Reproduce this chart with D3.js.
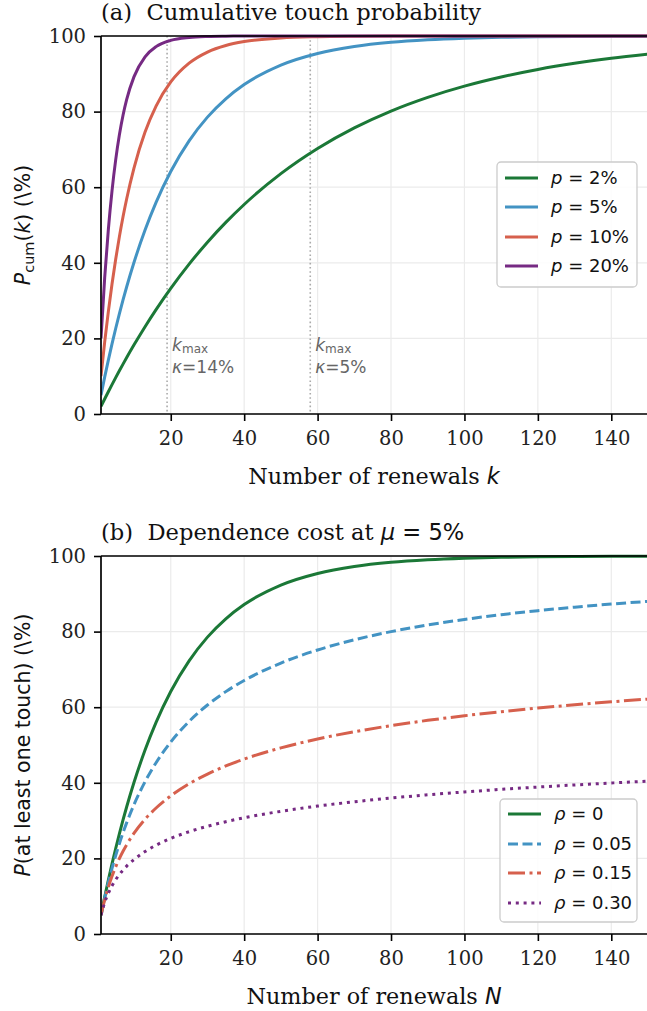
<!DOCTYPE html>
<html><head><meta charset="utf-8">
<script src="https://cdn.jsdelivr.net/npm/d3@7"></script>
<style>body{margin:0;background:#fff}svg{display:block}</style>
</head><body>
<svg id="c" width="647" height="1011"></svg>
<script>
// ---- data ----
const kPoints = [1,2,3,4,5,6,7,8,10,13,16,20,25,30,35,40,50,60,70,80,90,100,110,120,130,140,150];
const pcum2  = [2.0,3.96,5.88,7.76,9.61,11.42,13.19,14.92,18.29,23.10,27.62,33.24,39.65,45.45,50.69,55.43,63.58,70.24,75.69,80.14,83.77,86.74,89.16,91.15,92.77,94.09,95.17];
const pcum5  = [5.0,9.75,14.26,18.55,22.62,26.49,30.17,33.66,40.13,48.67,55.99,64.15,72.26,78.54,83.39,87.15,92.31,95.39,97.24,98.35,99.01,99.41,99.65,99.79,99.87,99.92,99.95];
const pcum10 = [10,19,27.1,34.39,40.95,46.86,52.17,56.95,65.13,74.58,81.47,87.84,92.82,95.76,97.50,98.52,99.48,99.82,99.94,99.98,99.99,100,100,100,100,100,100];
const pcum20 = [20,36,48.8,59.04,67.23,73.79,79.03,83.22,89.26,94.50,97.19,98.85,99.62,99.88,99.96,99.99,100,100,100,100,100,100,100,100,100,100,100];
const pLabels = ["2%","5%","10%","20%"];

const rho0   = pcum5;
const rho005 = [5.0,9.51,13.61,17.34,20.75,23.89,26.78,29.46,34.24,40.30,45.32,50.79,56.24,60.58,64.12,67.06,71.68,75.14,77.83,79.99,81.75,83.22,84.47,85.54,86.47,87.29,88.00];
const rho015 = [5.0,9.04,12.40,15.26,17.75,19.96,21.90,23.65,26.68,30.36,33.34,36.55,39.74,42.31,44.45,46.27,49.24,51.59,53.51,55.13,56.52,57.74,58.81,59.78,60.64,61.43,62.15];
const rho030 = [5.0,8.33,10.79,12.74,14.35,15.74,16.92,17.96,19.72,21.82,23.49,25.28,27.06,28.50,29.71,30.75,32.46,33.84,34.98,35.97,36.82,37.58,38.26,38.87,39.43,39.95,40.42];
const rhoLabels = ["0","0.05","0.15","0.30"];

const xTicks = [20,40,60,80,100,120,140];
const yTicks = [0,20,40,60,80,100];
const kmaxMarks = [{k:19, label:"14%"},{k:58, label:"5%"}];

// ---- style ----
const colors = ["#1b7837","#4393c3","#d6604d","#762a83"];
const SERIF = "DejaVu Serif", SANS = "DejaVu Sans";
const LW = 3;
const svg = d3.select("#c");

const x = d3.scaleLinear().domain([1,150]).range([101,648]);

function panel(top, bottom){
  const y = d3.scaleLinear().domain([0,100]).range([bottom, top]);
  const g = svg.append("g");
  g.append("g").selectAll("line").data(xTicks).join("line")
    .attr("x1",d=>x(d)).attr("x2",d=>x(d)).attr("y1",top).attr("y2",bottom)
    .attr("stroke","#ebebeb").attr("stroke-width",1.2);
  g.append("g").selectAll("line").data(yTicks).join("line")
    .attr("x1",x.range()[0]).attr("x2",x.range()[1]).attr("y1",d=>y(d)).attr("y2",d=>y(d))
    .attr("stroke","#ebebeb").attr("stroke-width",1.2);
  return {g,y};
}

function axes(g, y, top, bottom){
  const ax = g.append("g").attr("transform",`translate(0,${bottom})`)
    .call(d3.axisBottom(x).tickValues(xTicks).tickSize(7).tickPadding(10).tickFormat(d3.format("d")));
  const ay = g.append("g").attr("transform",`translate(${x.range()[0]},0)`)
    .call(d3.axisLeft(y).tickValues(yTicks).tickSize(7).tickPadding(8).tickFormat(d3.format("d")));
  [ax,ay].forEach(a=>{
    a.select(".domain").remove();
    a.selectAll(".tick line").attr("stroke","#000").attr("stroke-width",1.6);
    a.selectAll(".tick text").attr("font-family",SERIF).attr("font-size",19.5).attr("fill","#222");
  });
  g.append("line").attr("x1",x.range()[0]).attr("x2",x.range()[0]).attr("y1",top).attr("y2",bottom).attr("stroke","#000").attr("stroke-width",1.7);
  g.append("line").attr("x1",x.range()[0]).attr("x2",x.range()[1]).attr("y1",bottom).attr("y2",bottom).attr("stroke","#000").attr("stroke-width",1.7);
  g.append("line").attr("x1",x.range()[0]).attr("x2",x.range()[1]).attr("y1",top).attr("y2",top).attr("stroke","#000").attr("stroke-width",1.7);
}

function legend(g, x0, y0, w, h, rows, labelPrefix, labels, dashes){
  g.append("rect").attr("x",x0).attr("y",y0).attr("width",w).attr("height",h).attr("rx",4)
    .attr("fill","rgba(255,255,255,0.85)").attr("stroke","#cccccc").attr("stroke-width",1.3);
  labels.forEach((lb,i)=>{
    const yy = rows[i];
    g.append("line").attr("x1",x0+8).attr("x2",x0+41).attr("y1",yy).attr("y2",yy)
      .attr("stroke",colors[i]).attr("stroke-width",LW).attr("stroke-dasharray",dashes[i]);
    const t = g.append("text").attr("x",x0+54).attr("y",yy).attr("dy","0.36em")
      .attr("font-family",SANS).attr("font-size",18).attr("fill","#111");
    t.append("tspan").attr("font-style","italic").text(labelPrefix);
    t.append("tspan").text(" = "+lb);
  });
}

svg.append("clipPath").attr("id","clipA").append("rect").attr("x",101).attr("y",30).attr("width",547).attr("height",390);
svg.append("clipPath").attr("id","clipB").append("rect").attr("x",101).attr("y",550).attr("width",547).attr("height",390);

// ---- Panel (a) ----
{
  const top=36, bottom=414;
  const {g,y} = panel(top,bottom);
  kmaxMarks.forEach(m=>{
    g.append("line").attr("x1",x(m.k)).attr("x2",x(m.k)).attr("y1",top).attr("y2",bottom)
      .attr("stroke","#aaaaaa").attr("stroke-width",1.6).attr("stroke-dasharray","1.6,2.6");
    const t1 = g.append("text").attr("x",x(m.k)+5).attr("y",351).attr("font-family",SANS).attr("font-size",17).attr("fill","#666");
    t1.append("tspan").attr("font-style","italic").text("k");
    t1.append("tspan").attr("font-size",12).attr("dy",2).text("max");
    const t2 = g.append("text").attr("x",x(m.k)+5).attr("y",373).attr("font-family",SANS).attr("font-size",17).attr("fill","#666");
    t2.append("tspan").attr("font-style","italic").text("κ");
    t2.append("tspan").text("="+m.label);
  });
  const line = d3.line().x((d,i)=>x(kPoints[i])).y(d=>y(d)).curve(d3.curveMonotoneX);
  const lg = g.append("g").attr("clip-path","url(#clipA)");
  [pcum2,pcum5,pcum10,pcum20].forEach((s,i)=>{
    lg.append("path").attr("d",line(s)).attr("fill","none").attr("stroke",colors[i]).attr("stroke-width",LW);
  });
  axes(g,y,top,bottom);
  legend(g,497,162,140,125,[178,207,237,266],"p",pLabels,[null,null,null,null]);
  svg.append("text").attr("x",101).attr("y",20).attr("font-family",SERIF).attr("font-size",22.6).attr("fill","#111")
    .attr("xml:space","preserve").text("(a)  Cumulative touch probability");
  const xl = svg.append("text").attr("x",374).attr("y",484).attr("text-anchor","middle").attr("font-family",SERIF).attr("font-size",22.3).attr("fill","#111");
  xl.append("tspan").text("Number of renewals ");
  xl.append("tspan").attr("font-family",SANS).attr("font-style","italic").text("k");
  const yl = svg.append("text").attr("transform",`translate(30,${(top+bottom)/2}) rotate(-90)`).attr("text-anchor","middle")
    .attr("font-family",SANS).attr("font-size",20.5).attr("fill","#111");
  yl.append("tspan").attr("font-style","italic").text("P");
  yl.append("tspan").attr("font-size",14.5).attr("dy",4).text("cum");
  yl.append("tspan").attr("dy",-4).text("(");
  yl.append("tspan").attr("font-style","italic").text("k");
  yl.append("tspan").text(") (\\%)");
}

// ---- Panel (b) ----
{
  const top=556, bottom=934;
  const {g,y} = panel(top,bottom);
  const line = d3.line().x((d,i)=>x(kPoints[i])).y(d=>y(d)).curve(d3.curveMonotoneX);
  const dashes = [null, "10,4.5", "17,4.5,3,4.5", "3,4.8"];
  const lg = g.append("g").attr("clip-path","url(#clipB)");
  [rho0,rho005,rho015,rho030].forEach((s,i)=>{
    lg.append("path").attr("d",line(s)).attr("fill","none").attr("stroke",colors[i]).attr("stroke-width",LW)
      .attr("stroke-dasharray",dashes[i]);
  });
  axes(g,y,top,bottom);
  legend(g,500,799,137,123,[814,844,873,903],"ρ",rhoLabels,dashes);
  const tt = svg.append("text").attr("x",101).attr("y",540).attr("font-family",SERIF).attr("font-size",22.6).attr("fill","#111")
    .attr("xml:space","preserve");
  tt.append("tspan").text("(b)  Dependence cost at ");
  tt.append("tspan").attr("font-family",SANS).attr("font-style","italic").text("μ");
  tt.append("tspan").attr("font-family",SANS).text(" = 5%");
  const xl = svg.append("text").attr("x",374).attr("y",1004).attr("text-anchor","middle").attr("font-family",SERIF).attr("font-size",22.3).attr("fill","#111");
  xl.append("tspan").text("Number of renewals ");
  xl.append("tspan").attr("font-family",SANS).attr("font-style","italic").text("N");
  const yl = svg.append("text").attr("transform",`translate(30,${(top+bottom)/2}) rotate(-90)`).attr("text-anchor","middle")
    .attr("font-family",SANS).attr("font-size",20.5).attr("fill","#111");
  yl.append("tspan").attr("font-style","italic").text("P");
  yl.append("tspan").text("(at least one touch) (\\%)");
}
</script>
</body></html>
